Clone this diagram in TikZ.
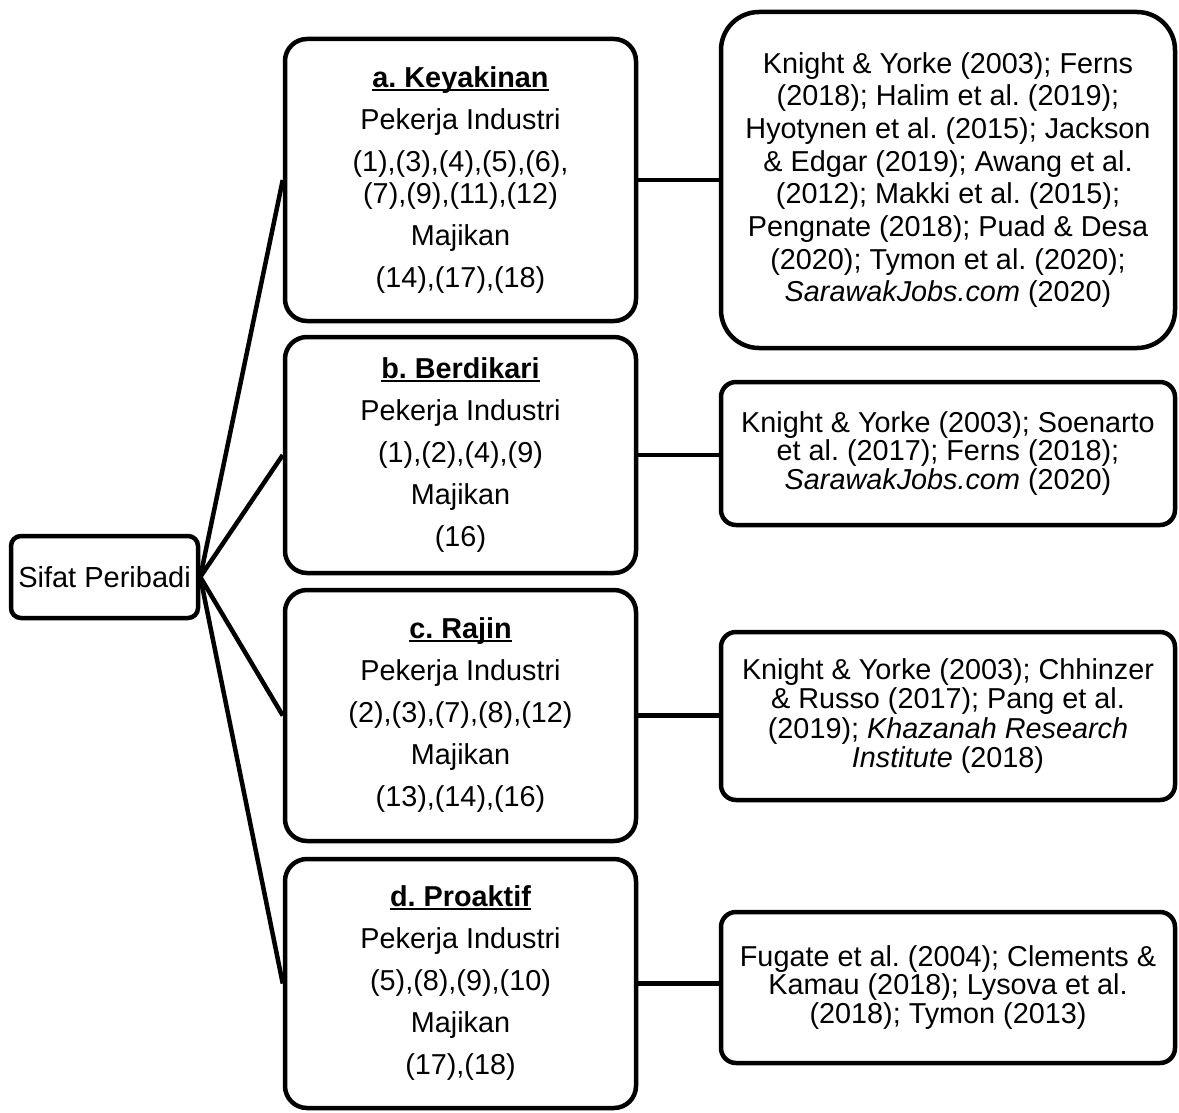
\documentclass[tikz,border=0pt]{standalone}
\usepackage{fontspec}
\setmainfont{Liberation Sans}
\frenchspacing
% bold heading with a line drawn through the descenders
\newcommand{\headline}[1]{\setbox0\hbox{\bfseries #1}\leavevmode\rlap{\rule[-0.12em]{\wd0}{0.08em}}\box0}
\begin{document}
\begin{tikzpicture}[x=1pt,y=-1pt,
  box/.style={draw=black, line width=4.5pt, fill=white, inner sep=0pt, align=center},
  rootbox/.style={box, rounded corners=10pt, minimum width=187pt, minimum height=82pt,
    font=\fontsize{29}{32}\selectfont},
  midbox/.style={box, rounded corners=22pt, minimum width=351pt,
    font=\fontsize{28.8}{32}\selectfont},
  refbox/.style={box, rounded corners=15pt, minimum width=454pt,
    font=\fontsize{28.8}{28.6}\selectfont},
  conn/.style={draw=black, line width=4.5pt}]
\useasboundingbox (0,0) rectangle (1179,1113);

% root
\node[rootbox] (root) at (104.5,577) {Sifat Peribadi};

% middle column: attributes
\node[midbox, minimum height=282pt] (ma) at (460.5,180) {%
  \headline{a. Keyakinan}\\[10pt]
  Pekerja Industri\\[10pt]
  (1),(3),(4),(5),(6),\\
  (7),(9),(11),(12)\\[10pt]
  Majikan\\[10pt]
  (14),(17),(18)};
\node[midbox, minimum height=236pt] (mb) at (460.5,455) {%
  \headline{b. Berdikari}\\[10pt]
  Pekerja Industri\\[10pt]
  (1),(2),(4),(9)\\[10pt]
  Majikan\\[10pt]
  (16)};
\node[midbox, minimum height=251pt] (mc) at (460.5,715.5) {%
  \headline{c. Rajin}\\[10pt]
  Pekerja Industri\\[10pt]
  (2),(3),(7),(8),(12)\\[10pt]
  Majikan\\[10pt]
  (13),(14),(16)};
\node[midbox, minimum height=249pt] (md) at (460.5,983.5) {%
  \headline{d. Proaktif}\\[10pt]
  Pekerja Industri\\[10pt]
  (5),(8),(9),(10)\\[10pt]
  Majikan\\[10pt]
  (17),(18)};

% right column: references
\node[refbox, rounded corners=38pt, minimum height=336pt,
      font=\fontsize{28.8}{32.7}\selectfont] (ra) at (948,180) {%
  Knight \& Yorke (2003); Ferns\\
  (2018); Halim et al. (2019);\\
  Hyotynen et al. (2015); Jackson\\
  \& Edgar (2019); Awang et al.\\
  (2012); Makki et al. (2015);\\
  Pengnate (2018); Puad \& Desa\\
  (2020); Tymon et al. (2020);\\
  \textit{SarawakJobs.com} (2020)};
\node[refbox, minimum height=143pt] (rb) at (948,453.5) {%
  Knight \& Yorke (2003); Soenarto\\
  et al. (2017); Ferns (2018);\\
  \textit{SarawakJobs.com} (2020)};
\node[refbox, minimum height=168pt,
      font=\fontsize{28.8}{29.5}\selectfont] (rc) at (948,716) {%
  Knight \& Yorke (2003); Chhinzer\\
  \& Russo (2017); Pang et al.\\
  (2019); \textit{Khazanah Research}\\
  \textit{Institute} (2018)};
\node[refbox, minimum height=151pt] (rd) at (948,987.5) {%
  Fugate et al. (2004); Clements \&\\
  Kamau (2018); Lysova et al.\\
  (2018); Tymon (2013)};

% connectors from the root to each attribute
\foreach \m in {ma,mb,mc,md}
  \draw[conn] (root.east) -- (\m.west);

% connectors from each attribute to its references
\draw[conn] (ma.east) -- (ma.east -| ra.west);
\draw[conn] (mb.east) -- (mb.east -| rb.west);
\draw[conn] (mc.east) -- (mc.east -| rc.west);
\draw[conn] (md.east) -- (md.east -| rd.west);
\end{tikzpicture}
\end{document}
